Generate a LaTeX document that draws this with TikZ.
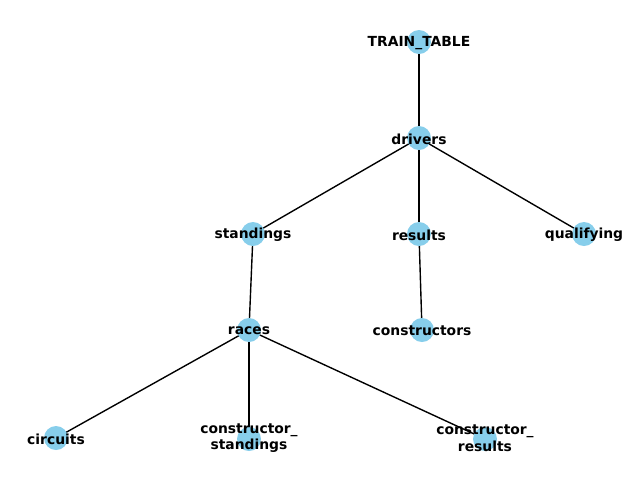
\documentclass[tikz,border=0pt]{standalone}
\usepackage{fontspec}
\setmainfont{DejaVu Sans}
\definecolor{skyblue}{RGB}{135,206,235}
\pgfdeclarelayer{bg}
\pgfsetlayers{bg,main}
\tikzset{
  vert/.style={circle, fill=skyblue, minimum size=18pt, inner sep=0pt},
  lbl/.style={font=\fontsize{10.4pt}{12.5pt}\selectfont\bfseries, align=center, inner sep=0pt, yshift=-0.9pt},
  lbltwo/.style={font=\fontsize{10.4pt}{12.5pt}\selectfont\bfseries, align=center, inner sep=0pt, yshift=0.6pt},
  edge/.style={draw=black, line width=1.04pt}
}
\begin{document}
\begin{tikzpicture}[x=0.75pt,y=-0.75pt]
\useasboundingbox (0,0) rectangle (640,480);
\node[vert] (tt) at (419,42) {};
\node[vert] (dr) at (419,138) {};
\node[vert] (st) at (253,234) {};
\node[vert] (re) at (419,234) {};
\node[vert] (qu) at (584,234) {};
\node[vert] (ra) at (249,330) {};
\node[vert] (co) at (422,330) {};
\node[vert] (ci) at (56,438) {};
\node[vert] (cs) at (249,439) {};
\node[vert] (cr) at (485,439) {};
\begin{pgfonlayer}{bg}
\draw[edge] (tt.center) -- (dr.center);
\draw[edge] (dr.center) -- (st.center);
\draw[edge] (dr.center) -- (re.center);
\draw[edge] (dr.center) -- (qu.center);
\draw[edge] (st.center) -- (ra.center);
\draw[edge] (re.center) -- (co.center);
\draw[edge] (ra.center) -- (ci.center);
\draw[edge] (ra.center) -- (cs.center);
\draw[edge] (ra.center) -- (cr.center);
\end{pgfonlayer}
\node[lbl] (ltt) at (tt.center) {TRAIN\_TABLE};
\node[lbl] (ldr) at (dr.center) {drivers};
\node[lbl] (lst) at (st.center) {standings};
\node[lbl] (lre) at (re.center) {results};
\node[lbl] (lqu) at (qu.center) {qualifying};
\node[lbl] (lra) at (ra.center) {races};
\node[lbl] (lco) at (co.center) {constructors};
\node[lbl] (lci) at (ci.center) {circuits};
\node[lbltwo] (lcs) at (cs.center) {constructor\_\\standings};
\node[lbltwo] (lcr) at (cr.center) {constructor\_\\results};
\end{tikzpicture}
\end{document}
